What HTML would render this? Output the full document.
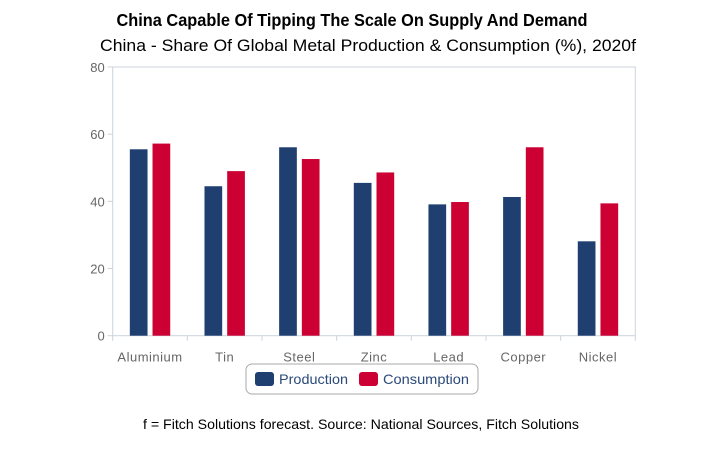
<!DOCTYPE html>
<html><head><meta charset="utf-8"><style>
body{margin:0;background:#fff;}
svg{display:block;font-family:"Liberation Sans",sans-serif;}
</style></head><body>
<svg id="chart" width="728" height="458" viewBox="0 0 728 458">
<text x="352" y="26" text-anchor="middle" font-size="17.5" font-weight="bold" textLength="471" lengthAdjust="spacingAndGlyphs" fill="#000">China Capable Of Tipping The Scale On Supply And Demand</text>
<text x="368" y="51" text-anchor="middle" font-size="16.5" textLength="536" lengthAdjust="spacingAndGlyphs" fill="#000">China - Share Of Global Metal Production &amp; Consumption (%), 2020f</text>
<rect x="112.7" y="67" width="522.6" height="268.7" fill="none" stroke="#ccd3dc" stroke-width="1"/>
<g id="yaxis"></g>
<g id="xaxis"></g>
<g id="bars"></g>
<g>
<rect x="246" y="364" width="232" height="30" rx="6" fill="#fff" stroke="#aaa"/>
<rect x="255" y="372" width="19" height="14" rx="3" fill="#1f3f70"/>
<text x="279" y="384" font-size="14" fill="#2a4a7a" textLength="69" lengthAdjust="spacingAndGlyphs">Production</text>
<rect x="359" y="372" width="19" height="14" rx="3" fill="#cc0033"/>
<text x="383" y="384" font-size="14" fill="#2a4a7a" textLength="86" lengthAdjust="spacingAndGlyphs">Consumption</text>
</g>
<text x="361" y="429" text-anchor="middle" font-size="14" textLength="436" lengthAdjust="spacingAndGlyphs" fill="#000">f = Fitch Solutions forecast. Source: National Sources, Fitch Solutions</text>
</svg>
<script>
const categories=["Aluminium","Tin","Steel","Zinc","Lead","Copper","Nickel"];
const production=[55.5,44.5,56.1,45.5,39.1,41.3,28.1];
const consumption=[57.2,49.0,52.6,48.6,39.8,56.1,39.4];
const yTicks=[0,20,40,60,80];
const NS="http://www.w3.org/2000/svg";
const x0=112.7,x1=635.3,y0=335.7,y1=67,yMax=80;
const bw=(x1-x0)/categories.length;
function y(v){return y0-(v/yMax)*(y0-y1);}
function mk(tag,attrs,parent){const e=document.createElementNS(NS,tag);for(const k in attrs)e.setAttribute(k,attrs[k]);parent.appendChild(e);return e;}
const ya=document.getElementById('yaxis'),xa=document.getElementById('xaxis'),bars=document.getElementById('bars');
yTicks.forEach(t=>{
  const tl=mk('line',{x1:x0-5,x2:x0,y1:y(t),y2:y(t),stroke:'#ccd3dc'},ya);
  
  
  const tx=mk('text',{x:x0-8,y:y(t)+5,'text-anchor':'end','font-size':13,fill:'#666'},ya);
  
  
  tx.textContent=t;
});
for(let i=0;i<=categories.length;i++){
  const tl=mk('line',{x1:x0+i*bw,x2:x0+i*bw,y1:y0,y2:y0+5,stroke:'#ccd3dc'},xa);
  
  
}
categories.forEach((c,i)=>{
  const cx=x0+bw*(i+0.5);
  const tx=mk('text',{x:cx,y:y0+26,'text-anchor':'middle','font-size':13,fill:'#666','letter-spacing':'0.5'},xa);
  
  
  tx.textContent=c;
  const w=17.7,g=2.5;
  const p=mk('rect',{x:cx-g-w,y:y(production[i]),width:w,height:y0-y(production[i]),fill:'#1f3f70'},bars);
  
  
  const q=mk('rect',{x:cx+g,y:y(consumption[i]),width:w,height:y0-y(consumption[i]),fill:'#cc0033'},bars);
  
  
});
</script>
</body></html>
